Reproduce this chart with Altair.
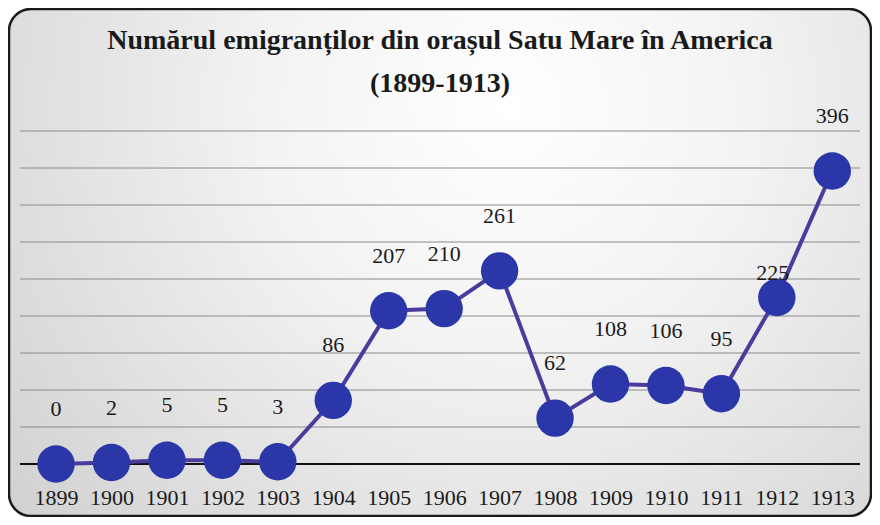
import altair as alt
import pandas as pd

years = [1899, 1900, 1901, 1902, 1903, 1904, 1905, 1906, 1907, 1908, 1909, 1910, 1911, 1912, 1913]
values = [0, 2, 5, 5, 3, 86, 207, 210, 261, 62, 108, 106, 95, 225, 396]
grid_values = [50, 100, 150, 200, 250, 300, 350, 400, 450]
baseline_values = [0]
title_lines = ["Numărul emigranților din orașul Satu Mare în America", "(1899-1913)"]

df = pd.DataFrame({"year": years, "value": values})
gdf = pd.DataFrame({"value": grid_values})
bdf = pd.DataFrame({"value": baseline_values})
bgdf = pd.DataFrame({"a": [0]})

SERIF = "Liberation Serif"

xscale = alt.Scale(domain=[1898.35, 1913.5], nice=False, zero=False)
yscale = alt.Scale(domain=[0, 450], nice=False)

x = alt.X("year:Q", scale=xscale,
          axis=alt.Axis(values=years, format="d", title=None, ticks=False, grid=False,
                        domain=False, labelFont=SERIF, labelFontSize=22,
                        labelColor="#1a1a1a", labelPadding=23, labelFlush=False,
                        zindex=1))
y = alt.Y("value:Q", scale=yscale, axis=None)

bg = alt.Chart(bgdf).mark_rect(
    cornerRadius=22,
    stroke="#1a1a1a",
    strokeWidth=2.5,
    fill=alt.Gradient(
        gradient="radial",
        x1=0.58, y1=0.32, r1=0.0,
        x2=0.58, y2=0.32, r2=0.8,
        stops=[alt.GradientStop(color="#ffffff", offset=0),
               alt.GradientStop(color="#f3f3f3", offset=0.35),
               alt.GradientStop(color="#cdcdcd", offset=1)],
    ),
).encode(x=alt.value(-11), x2=alt.value(851), y=alt.value(-122), y2=alt.value(385))

grid = alt.Chart(gdf).mark_rule(color="#8a8a8a", strokeWidth=1).encode(
    y=alt.Y("value:Q", scale=yscale, axis=None), x=alt.value(0), x2=alt.value(840))
baseline = alt.Chart(bdf).mark_rule(color="#111111", strokeWidth=2).encode(
    y=alt.Y("value:Q", scale=yscale, axis=None), x=alt.value(0), x2=alt.value(840))

base = alt.Chart(df).encode(x=x, y=y)

line = base.mark_line(color="#4a3c9c", strokeWidth=4)
pts = base.mark_circle(size=1400, color="#2b36a8", opacity=1)
labels = base.transform_filter(alt.datum.year != 1912).mark_text(
    font=SERIF, fontSize=22, color="#1a1a1a", dy=-55, baseline="middle"
).encode(text=alt.Text("value:Q"))
label1912 = base.transform_filter(alt.datum.year == 1912).mark_text(
    font=SERIF, fontSize=22, color="#1a1a1a", dy=-25, dx=-4, baseline="middle"
).encode(text=alt.Text("value:Q"))

chart = alt.layer(bg, grid, baseline, line, pts, labels, label1912).properties(
    width=840, height=333,
    autosize=alt.AutoSizeParams(type="none"),
    padding={"left": 12, "top": 123, "right": 12, "bottom": 53},
    background="white",
    title=alt.TitleParams(text=title_lines, font=SERIF, fontSize=28, fontWeight="bold",
                          color="#1a1a1a", anchor="middle", lineHeight=43, offset=-90,
                          frame="group"),
).configure_view(strokeWidth=0)

chart.save("out.html", embed_options={"renderer": "svg", "actions": False})
